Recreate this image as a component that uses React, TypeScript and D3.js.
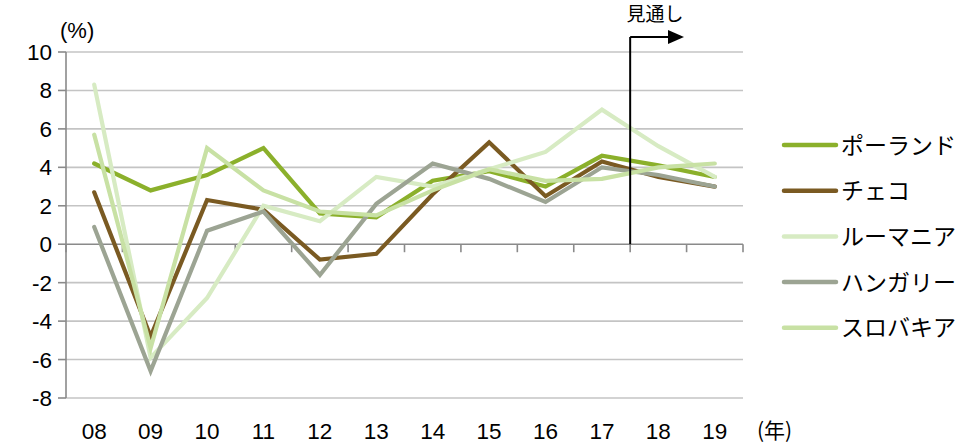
import React from "react";
import * as d3 from "d3";

const years = ["08", "09", "10", "11", "12", "13", "14", "15", "16", "17", "18", "19"];
const poland = [4.2, 2.8, 3.6, 5.0, 1.6, 1.4, 3.3, 3.8, 3.0, 4.6, 4.1, 3.5];
const czech = [2.7, -4.8, 2.3, 1.8, -0.8, -0.5, 2.6, 5.3, 2.5, 4.3, 3.5, 3.0];
const romania = [8.3, -5.9, -2.8, 2.0, 1.2, 3.5, 3.0, 3.9, 4.8, 7.0, 5.1, 3.5];
const hungary = [0.9, -6.6, 0.7, 1.7, -1.6, 2.1, 4.2, 3.4, 2.2, 4.0, 3.6, 3.0];
const slovakia = [5.7, -5.4, 5.0, 2.8, 1.7, 1.5, 2.8, 3.9, 3.3, 3.4, 4.0, 4.2];
const seriesNames = ["ポーランド", "チェコ", "ルーマニア", "ハンガリー", "スロバキア"];
const seriesColors = ["#8bb02b", "#7a5a22", "#d7ebc3", "#9ca493", "#c8e1a4"];
const yTicks = [10, 8, 6, 4, 2, 0, -2, -4, -6, -8];

const FONT = "'Liberation Sans', Arial, sans-serif";
const JFONT = "'Noto Sans CJK JP', sans-serif";

export default function App() {
  const W = 966, H = 444;
  const x = d3.scaleBand<string>().domain(years).range([66, 743]).paddingInner(0).paddingOuter(0);
  const y = d3.scaleLinear().domain([-8, 10]).range([398, 52]);
  const cx = (c: string) => (x(c) as number) + x.bandwidth() / 2;
  const data = [poland, czech, romania, hungary, slovakia];
  const line = d3.line<number>().x((_, i) => cx(years[i])).y((d) => y(d)).curve(d3.curveLinear);
  const boundaries = d3.range(years.length + 1).map((i) => 66 + i * x.bandwidth());
  const forecastX = (x("18") as number);

  return (
    <svg width={W} height={H} style={{ position: "absolute", left: 0, top: 0, background: "#fff" }}>
      <text x={50} y={-3.5} fontFamily={JFONT} fontSize={22} fill="#000">実質GDP成長率</text>
      <text x={60} y={38} fontFamily={FONT} fontSize={22} fill="#000">(%)</text>
      {yTicks.map((t) => (
        <g key={t}>
          {t !== 0 && (
            <line x1={66} x2={743} y1={y(t)} y2={y(t)} stroke="#c4c4c4" strokeWidth={1.6} />
          )}
          <line x1={58} x2={66} y1={y(t)} y2={y(t)} stroke="#8a8a8a" strokeWidth={1.6} />
          <text x={52} y={y(t) + 8} textAnchor="end" fontFamily={FONT} fontSize={22.5} fill="#000">{t}</text>
        </g>
      ))}
      <line x1={66} x2={66} y1={y(10)} y2={y(-8)} stroke="#8a8a8a" strokeWidth={1.6} />
      <line x1={66} x2={743} y1={y(0)} y2={y(0)} stroke="#8a8a8a" strokeWidth={1.6} />
      {boundaries.map((b, i) => (
        <line key={i} x1={b} x2={b} y1={y(0)} y2={y(0) + 8} stroke="#8a8a8a" strokeWidth={1.6} />
      ))}
      {years.map((c) => (
        <text key={c} x={cx(c)} y={439} textAnchor="middle" fontFamily={FONT} fontSize={22.5} fill="#000">{c}</text>
      ))}
      <text x={757} y={438} fontFamily={JFONT} fontSize={21} fill="#000">(年)</text>
      {data.map((s, i) => (
        <path key={i} d={line(s) || ""} fill="none" stroke={seriesColors[i]} strokeWidth={4.2} strokeLinejoin="miter" strokeLinecap="round" />
      ))}
      <line x1={forecastX} x2={forecastX} y1={37} y2={y(0)} stroke="#000" strokeWidth={2} />
      <line x1={forecastX} x2={670} y1={37} y2={37} stroke="#000" strokeWidth={2} />
      <path d={`M668,30 L684,37 L668,44 Z`} fill="#000" />
      <text x={655} y={21} textAnchor="middle" fontFamily={JFONT} fontSize={19} fill="#000">見通し</text>
      {seriesNames.map((n, i) => {
        const ly = 145 + i * 45.7;
        return (
          <g key={n}>
            <line x1={784} x2={836} y1={ly} y2={ly} stroke={seriesColors[i]} strokeWidth={4.5} strokeLinecap="round" />
            <text x={841} y={ly + 8.5} fontFamily={JFONT} fontSize={23} fill="#000">{n}</text>
          </g>
        );
      })}
    </svg>
  );
}
